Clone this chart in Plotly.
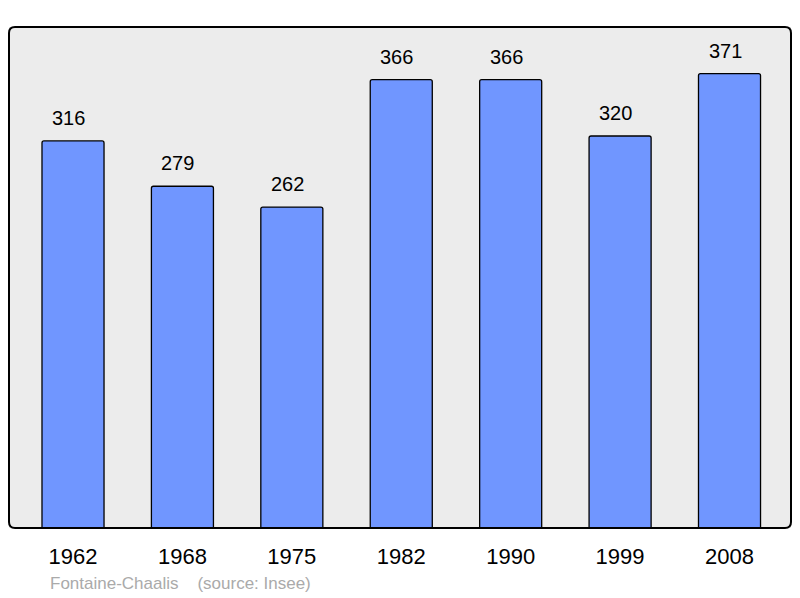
import plotly.graph_objects as go

years = ["1962", "1968", "1975", "1982", "1990", "1999", "2008"]
population = [316, 279, 262, 366, 366, 320, 371]
caption = "Fontaine-Chaalis    (source: Insee)"

# page body has an 8px default margin, so the figure is offset by 8px
W, H = 792, 590
ml, mr, mt, mb = 1, 9, 19, 70
pw, ph = W - ml - mr, H - mt - mb

fig = go.Figure()
fig.add_trace(go.Bar(
    x=list(range(len(years))), y=population,
    width=0.567,
    marker=dict(color="#7096ff", line=dict(color="#000000", width=1.3), cornerradius=2),
    hoverinfo="skip",
))

for i, v in enumerate(population):
    fig.add_annotation(x=i, y=v, text=str(v), showarrow=False, yanchor="bottom",
                       yshift=10, xshift=-4.5,
                       font=dict(size=20, color="#000000",
                                 family="Liberation Sans, Arial, sans-serif"))

# rounded border of the plot area
rx, ry = 6 / pw, 6 / ph
path = (f"M {rx},0 L {1-rx},0 Q 1,0 1,{ry} L 1,{1-ry} Q 1,1 {1-rx},1 "
        f"L {rx},1 Q 0,1 0,{1-ry} L 0,{ry} Q 0,0 {rx},0 Z")
fig.add_shape(type="path", xref="paper", yref="paper", path=path,
              line=dict(color="#000000", width=2), layer="above")

fig.add_annotation(xref="paper", yref="paper", x=(48 - 9) / pw, y=-(583 - 528) / ph,
                   xanchor="left", yanchor="middle", showarrow=False, text=caption,
                   font=dict(size=17, color="#aaaaaa", family="Liberation Sans, Arial, sans-serif"))

fig.update_layout(
    width=W, height=H,
    margin=dict(l=ml, r=mr, t=mt, b=mb, pad=0),
    paper_bgcolor="#ffffff", plot_bgcolor="#ececec",
    showlegend=False,
    font=dict(family="Liberation Sans, Arial, sans-serif", color="#000000"),
)
fig.update_xaxes(range=[-0.585, 6.562], tickmode="array", tickvals=list(range(len(years))),
                 ticktext=years, showgrid=False, zeroline=False, showline=False,
                 ticks="outside", ticklen=9, tickcolor="rgba(0,0,0,0)",
                 tickfont=dict(size=22, color="#000000"))
fig.update_yaxes(range=[0, 409], showgrid=False, zeroline=False, showline=False,
                 showticklabels=False, ticks="")

fig.write_html("out.html")
